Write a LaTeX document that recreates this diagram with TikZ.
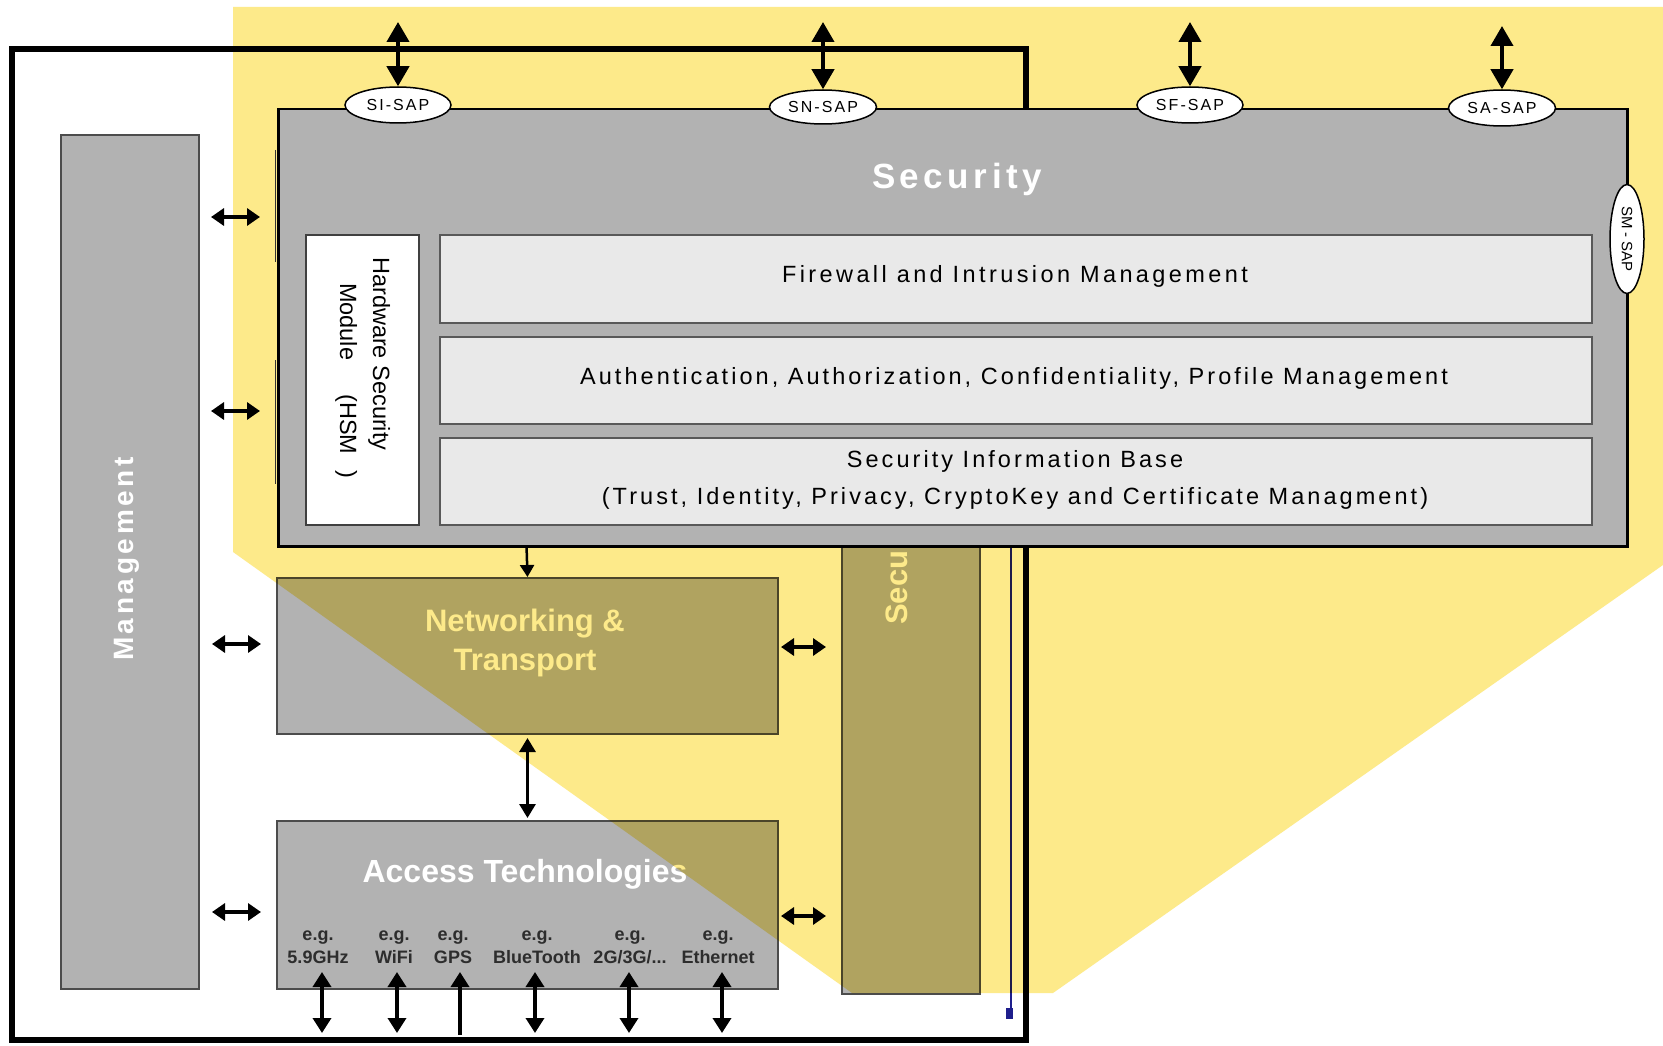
\documentclass[tikz,border=0pt]{standalone}
\usepackage{fontspec}
\setmainfont{Liberation Sans}
\newfontfamily\spc{Liberation Sans}[LetterSpace=13]
\usetikzlibrary{arrows.meta,shapes.geometric}
\definecolor{boxgray}{RGB}{178,178,178}
\definecolor{lightbox}{RGB}{233,233,233}
\definecolor{yel}{RGB}{253,234,138}
\definecolor{navyline}{RGB}{30,30,140}
\definecolor{labdark}{RGB}{45,45,45}
\tikzset{
  graybox/.style={draw=black!70, line width=2, fill=boxgray, inner sep=0, anchor=north west},
  secbox/.style={draw=black, line width=2.5, fill=boxgray, inner sep=0, anchor=north west},
  layerbox/.style={draw=black!65, line width=1.8, fill=lightbox, inner sep=0, anchor=north west},
  hsmbox/.style={draw=black!75, line width=1.5, fill=white, inner sep=0, anchor=north west},
  sap/.style={ellipse, draw=black, line width=1.5, fill=white, inner sep=0, font=\spc\fontsize{16}{18}\selectfont},
  saparrow/.style={line width=4, {Triangle[width=22,length=20]}-{Triangle[width=22,length=20]}},
  lrarrow/.style={line width=4, {Triangle[width=17,length=13]}-{Triangle[width=17,length=13]}},
  vbarrow/.style={line width=3.5, {Triangle[width=18,length=15]}-{Triangle[width=18,length=15]}},
  vuarrow/.style={line width=3.5, {Triangle[width=18,length=15]}-},
  midarrow/.style={line width=3, {Triangle[width=16,length=14]}-{Triangle[width=16,length=14]}},
  downarrow/.style={line width=2.5, -{Triangle[width=14,length=12]}},
  edgeline/.style={line width=1.5, black!80},
  whitebold/.style={text=white, inner sep=0, font=\bfseries\fontsize{31}{38}\selectfont},
  eglab/.style={text=labdark, inner sep=0, anchor=base, font=\bfseries\fontsize{18}{22}\selectfont},
  layertext/.style={inner sep=0, anchor=base, font=\spc\fontsize{23.5}{28}\selectfont},
  hsmtext/.style={inner sep=0, rotate=-90, anchor=base west, font=\fontsize{23.5}{28}\selectfont}
}
\begin{document}
\begin{tikzpicture}[x=1pt,y=-1pt]
\useasboundingbox (0,0) rectangle (1663,1046);
\fill[white] (0,0) rectangle (1663,1046);
% ---------- underlying architecture figure ----------
\draw[line width=6] (12,49) rectangle (1026,1040);
\node[graybox, minimum width=138, minimum height=854] (mgmt) at (60,134) {};
\node[whitebold, rotate=90, font=\spc\bfseries\fontsize{28}{32}\selectfont] (mgmtlab) at (127,559) {Management};
\node[graybox, minimum width=501, minimum height=156] (net) at (276,577) {};
\node[graybox, minimum width=501, minimum height=168] (acc) at (276,820) {};
\node[graybox, minimum width=138, minimum height=453] (secu) at (841,540) {};
\node[whitebold, rotate=90, anchor=base west] (seculab) at (907,625) {Secu};
\node[whitebold, anchor=base] (netlab1) at (525,631) {Networking \&};
\node[whitebold, anchor=base] (netlab2) at (525,670) {Transport};
\node[whitebold, anchor=base, font=\bfseries\fontsize{32}{38}\selectfont] (acclab) at (525,882) {Access Technologies};
% e.g. labels
\node[eglab] (eg1) at (318,940) {e.g.};  \node[eglab] (nm1) at (318,963) {5.9GHz};
\node[eglab] (eg2) at (394,940) {e.g.};  \node[eglab] (nm2) at (394,963) {WiFi};
\node[eglab] (eg3) at (453,940) {e.g.};  \node[eglab] (nm3) at (453,963) {GPS};
\node[eglab] (eg4) at (537,940) {e.g.};  \node[eglab] (nm4) at (537,963) {BlueTooth};
\node[eglab] (eg5) at (630,940) {e.g.};  \node[eglab] (nm5) at (630,963) {2G/3G/...};
\node[eglab] (eg6) at (718,940) {e.g.};  \node[eglab] (nm6) at (718,963) {Ethernet};
% access arrows
\foreach \x [count=\i] in {322,397,460,535,629,722} {
  \coordinate (at\i) at (\x,972);
  \coordinate (ab\i) at (\x,1033);
}
\draw[vbarrow] (at1) -- (ab1);
\draw[vbarrow] (at2) -- (ab2);
\draw[vuarrow] (at3) -- ([yshift=-2pt]ab3);
\draw[vbarrow] (at4) -- (ab4);
\draw[vbarrow] (at5) -- (ab5);
\draw[vbarrow] (at6) -- (ab6);
% management arrows
\coordinate (ma1) at (211,217); \coordinate (mb1) at (260,217);
\coordinate (ma2) at (211,411); \coordinate (mb2) at (260,411);
\coordinate (ma3) at (212,644); \coordinate (mb3) at (261,644);
\coordinate (ma4) at (212,912); \coordinate (mb4) at (261,912);
\draw[lrarrow] (ma1) -- (mb1);
\draw[lrarrow] (ma2) -- (mb2);
\draw[lrarrow] (ma3) -- (mb3);
\draw[lrarrow] (ma4) -- (mb4);
% right arrows
\coordinate (ra1) at (781,647); \coordinate (rb1) at (826,647);
\coordinate (ra2) at (781,916); \coordinate (rb2) at (826,916);
\draw[lrarrow] (ra1) -- (rb1);
\draw[lrarrow] (ra2) -- (rb2);
% net - access
\draw[midarrow, shorten <=3pt, shorten >=2pt] (net.south) -- (acc.north);
\coordinate (secbot) at (526.5,545);
\draw[downarrow] (secbot) -- (net.north);
% blue line
\draw[navyline, line width=2.5] (1011,545) -- (1011,1018);
\fill[navyline] (1006,1008) rectangle (1013,1019);
% ---------- yellow zoom callout ----------
\begin{scope}[blend mode=multiply]
\fill[yel] (233,7) -- (1663,7) -- (1663,565) -- (1053,993) -- (852,993) -- (233,552) -- cycle;
\end{scope}
% ---------- Security detail ----------
\node[secbox, minimum width=1349, minimum height=437] (sec) at (277,108) {};
\coordinate (e1a) at (275.5,150); \coordinate (e1b) at (275.5,262);
\coordinate (e2a) at (275.5,360); \coordinate (e2b) at (275.5,484);
\draw[edgeline] (e1a) -- (e1b);
\draw[edgeline] (e2a) -- (e2b);
\node[text=white, inner sep=0, anchor=base, font=\spc\bfseries\fontsize{35}{40}\selectfont] (sectitle) at (957,188) {Security};
\node[hsmbox, minimum width=113, minimum height=290] (hsm) at (305,234) {};
\node[hsmtext] (hsm1) at (373,257) {Hardware Security};
\node[hsmtext] (hsm2) at (340,283) {Module\hspace{34pt}(HSM\hspace{16pt})};
\node[layerbox, minimum width=1152, minimum height=88] (fw) at (439,234) {};
\node[layerbox, minimum width=1152, minimum height=87] (auth) at (439,336) {};
\node[layerbox, minimum width=1152, minimum height=87] (sib) at (439,437) {};
\node[layertext, font=\spc\fontsize{23.5}{28}\selectfont\addfontfeatures{LetterSpace=14.5}] (fwlab) at (1015,282) {Firewall and Intrusion Management};
\node[layertext] (authlab) at (1014,384) {Authentication, Authorization, Confidentiality, Profile Management};
\node[layertext] (siblab1) at (1015,467) {Security Information Base};
\node[layertext] (siblab2) at (1015,504) {(Trust, Identity, Privacy, CryptoKey and Certificate Managment)};
% SAP ellipses
\node[sap, minimum width=106, minimum height=36] (sisap) at (398,105) {SI-SAP};
\node[sap, minimum width=107, minimum height=34] (snsap) at (823,107) {SN-SAP};
\node[sap, minimum width=106, minimum height=36] (sfsap) at (1190,105) {SF-SAP};
\node[sap, minimum width=107, minimum height=36] (sasap) at (1502,108) {SA-SAP};
\node[sap, rotate=-90, minimum width=109, minimum height=34, font=\fontsize{15}{18}\selectfont] (smsap) at (1627,239) {SM - SAP};
% SAP arrows
\coordinate (sitop) at (398,22);
\coordinate (sntop) at (823,22);
\coordinate (sftop) at (1190,22);
\coordinate (satop) at (1502,26);
\draw[saparrow] (sitop) -- (sisap.north);
\draw[saparrow] (sntop) -- (snsap.north);
\draw[saparrow] (sftop) -- (sfsap.north);
\draw[saparrow] (satop) -- (sasap.north);
\end{tikzpicture}
\end{document}
